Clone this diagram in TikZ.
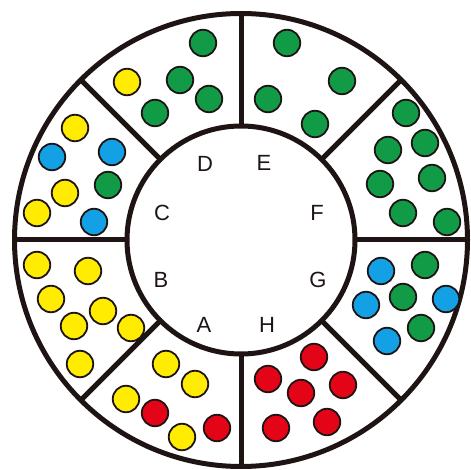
\documentclass[tikz,border=0pt]{standalone}
\usepackage{fontspec}
\setmainfont{Liberation Sans}
\usetikzlibrary{calc}
\definecolor{dgreen}{RGB}{18,155,70}
\definecolor{dyellow}{RGB}{255,236,0}
\definecolor{dblue}{RGB}{20,160,228}
\definecolor{dred}{RGB}{228,4,24}
\definecolor{ink}{RGB}{30,20,20}
\begin{document}
\begin{tikzpicture}[x=1pt,y=-1pt,
  ring/.style={draw=ink,line width=5pt},
  dot/.style={circle,draw=ink,line width=1.8pt,minimum size=26.5pt,inner sep=0pt},
  g/.style={dot,fill=dgreen},
  yl/.style={dot,fill=dyellow},
  bl/.style={dot,fill=dblue},
  rd/.style={dot,fill=dred},
  lab/.style={font=\fontsize{22}{22}\selectfont,text=ink,inner sep=0pt}]
\useasboundingbox (0,0) rectangle (471,470);
\coordinate (o) at (241,240);
\draw[ring] (o) circle[radius=226.5];
\draw[ring] (o) circle[radius=114];
\foreach \a in {0,45,...,315}{
  \draw[ring] ($(o)+(\a:116)$) -- ($(o)+(\a:225)$);
}
% labels
\node[lab] (lD) at (205,164) {D};
\node[lab] (lE) at (264,163) {E};
\node[lab] (lC) at (162,213) {C};
\node[lab] (lF) at (317,213) {F};
\node[lab] (lB) at (161,280) {B};
\node[lab] (lG) at (318,280) {G};
\node[lab] (lA) at (204,325) {A};
\node[lab] (lH) at (267,325) {H};
% sector D (top-left)
\node[g] (d1) at (203,43) {};
\node[yl] (d2) at (127,82) {};
\node[g] (d3) at (180,80) {};
\node[g] (d4) at (209,99) {};
\node[g] (d5) at (155,113) {};
% sector C
\node[yl] (c1) at (75,128) {};
\node[bl] (c2) at (52,157) {};
\node[bl] (c3) at (112,152) {};
\node[g] (c4) at (108,185) {};
\node[yl] (c5) at (65,193) {};
\node[yl] (c6) at (37,213) {};
\node[bl] (c7) at (94,222) {};
% sector E
\node[g] (e1) at (287,43) {};
\node[g] (e2) at (342,81) {};
\node[g] (e3) at (268,99) {};
\node[g] (e4) at (315,124) {};
% sector F
\node[g] (f1) at (406,113) {};
\node[g] (f2) at (425,143) {};
\node[g] (f3) at (388,150) {};
\node[g] (f4) at (432,178) {};
\node[g] (f5) at (380,184) {};
\node[g] (f6) at (403,213) {};
\node[g] (f7) at (447,222) {};
% sector B
\node[yl] (b1) at (37,265) {};
\node[yl] (b2) at (88,271) {};
\node[yl] (b3) at (51,299) {};
\node[yl] (b4) at (103,311) {};
\node[yl] (b5) at (74,326) {};
\node[yl] (b6) at (131,328) {};
\node[yl] (b7) at (80,364) {};
% sector A
\node[yl] (a1) at (166,364) {};
\node[yl] (a2) at (195,384) {};
\node[yl] (a3) at (126,399) {};
\node[rd] (a4) at (155,413) {};
\node[yl] (a5) at (182,437) {};
\node[rd] (a6) at (217,428) {};
% sector G
\node[bl] (g1) at (381,271) {};
\node[g] (g2) at (425,265) {};
\node[g] (g3) at (403,297) {};
\node[bl] (g4) at (366,305) {};
\node[bl] (g5) at (446,299) {};
\node[g] (g6) at (421,328) {};
\node[bl] (g7) at (387,341) {};
% sector H
\node[rd] (h1) at (314,357) {};
\node[rd] (h2) at (268,379) {};
\node[rd] (h3) at (343,385) {};
\node[rd] (h4) at (301,393) {};
\node[rd] (h5) at (276,428) {};
\node[rd] (h6) at (327,422) {};
\end{tikzpicture}
\end{document}
